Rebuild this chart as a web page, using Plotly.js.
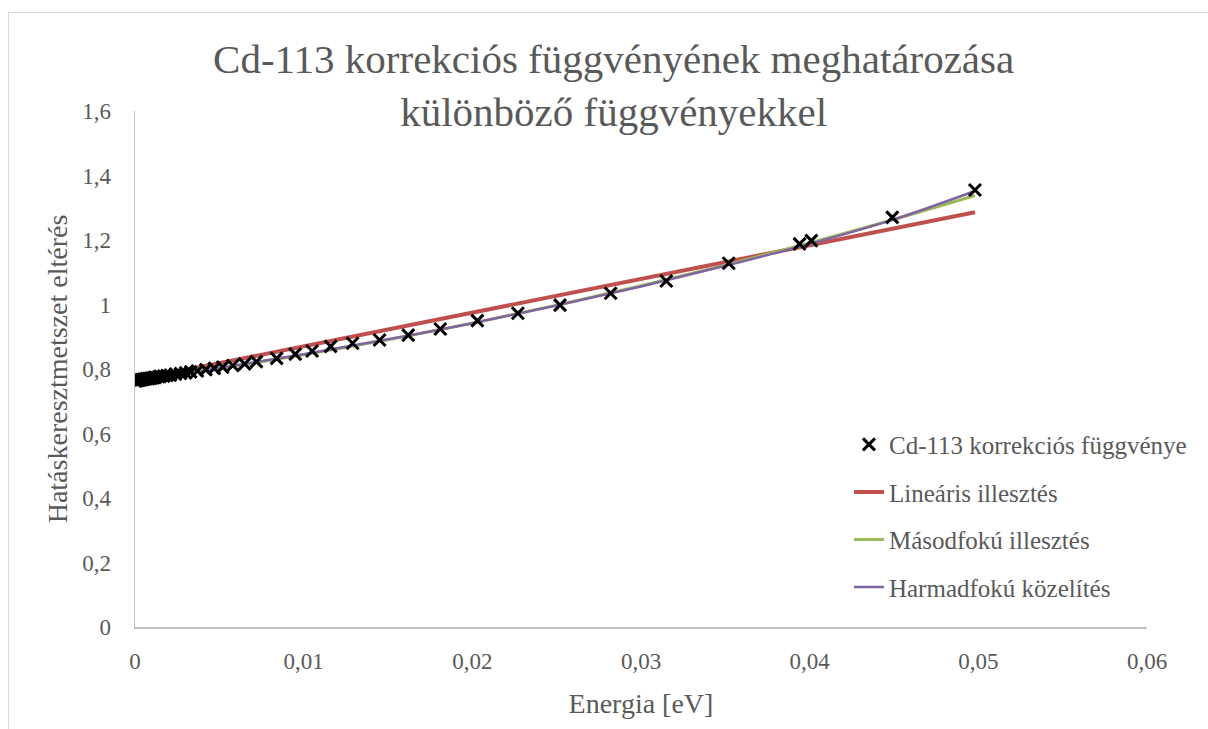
<!DOCTYPE html>
<html>
<head>
<meta charset="utf-8">
<script src="https://cdn.plot.ly/plotly-3.0.1.min.js"></script>
<style>
  html, body { margin: 0; padding: 0; background: #fff; overflow: hidden; }
  #chart { width: 1208px; height: 729px; }
  #frame { position: absolute; left: 8px; top: 12px; width: 1300px; height: 800px;
           border: 1.5px solid #D9D9D9; pointer-events: none; }
</style>
</head>
<body>
<div id="chart"></div>
<div id="frame"></div>
<script>
// Measured points (Energia [eV], Hatáskeresztmetszet eltérés)
const energy = [0.0498, 0.0449, 0.0401, 0.0394, 0.0352, 0.0315, 0.0282, 0.0252, 0.0227, 0.0203,
  0.0181, 0.0162, 0.0145, 0.0129, 0.0116, 0.0105, 0.0095, 0.0084, 0.0072, 0.0065,
  0.0058, 0.0052, 0.0047, 0.0042, 0.0037, 0.0033, 0.0030, 0.0027, 0.0024, 0.0021,
  0.0019, 0.0017, 0.0015, 0.0014, 0.0012, 0.0011, 0.0010, 0.0009, 0.0008, 0.0007,
  0.0006, 0.0005, 0.0004, 0.0003, 0.00025, 0.0002, 0.00015, 0.0001, 0.00005, 0.00001];
const correction = [1.355, 1.270, 1.198, 1.188, 1.128, 1.073, 1.035, 0.998, 0.973, 0.950,
  0.924, 0.905, 0.890, 0.880, 0.870, 0.856, 0.846, 0.833, 0.823, 0.816,
  0.811, 0.806, 0.802, 0.798, 0.794, 0.791, 0.788, 0.786, 0.784, 0.781,
  0.780, 0.778, 0.777, 0.776, 0.774, 0.773, 0.772, 0.771, 0.770, 0.770,
  0.769, 0.768, 0.767, 0.766, 0.766, 0.765, 0.765, 0.764, 0.764, 0.763];

// Trendlines
const fitX      = [0, 0.005, 0.01, 0.015, 0.02, 0.025, 0.03, 0.035, 0.04, 0.045, 0.0498];
const linearY   = [0.766, 0.818, 0.871, 0.923, 0.975, 1.027, 1.080, 1.132, 1.184, 1.236, 1.286];
const quadY     = [0.762, 0.801, 0.844, 0.891, 0.942, 0.998, 1.058, 1.122, 1.191, 1.264, 1.338];
const cubicY    = [0.765, 0.803, 0.846, 0.892, 0.942, 0.997, 1.056, 1.120, 1.188, 1.264, 1.352];

const names = ['Cd-113 korrekciós függvénye', 'Lineáris illesztés', 'Másodfokú illesztés', 'Harmadfokú közelítés'];
const titleText = 'Cd-113 korrekciós függvényének meghatározása<br>különböző függvényekkel';
const xTitle = 'Energia [eV]';
const yTitle = 'Hatáskeresztmetszet eltérés';

const FONT = '"Liberation Serif", "DejaVu Serif", serif';
const GREY = '#595959';

const traces = [
  { x: fitX, y: linearY, mode: 'lines', name: names[1], legendgroup: 'b', legendrank: 2,
    line: { color: '#C0504D', width: 4 } },
  { x: fitX, y: quadY, mode: 'lines', name: names[2], legendgroup: 'c', legendrank: 3,
    line: { color: '#9BBB59', width: 3, shape: 'spline' } },
  { x: fitX, y: cubicY, mode: 'lines', name: names[3], legendgroup: 'd', legendrank: 4,
    line: { color: '#8064A2', width: 2.5, shape: 'spline' } },
  { x: energy, y: correction, mode: 'markers', name: names[0], legendgroup: 'a', legendrank: 1,
    marker: { symbol: 'x-thin-open', size: 12, color: '#000', line: { color: '#000', width: 3 } } }
];

const layout = {
  width: 1208, height: 729,
  margin: { l: 135, r: 61, t: 111, b: 102 },
  paper_bgcolor: '#fff', plot_bgcolor: '#fff',
  separators: ', ',
  font: { family: FONT, color: GREY, size: 23 },
  title: { text: titleText, x: 0.508, xanchor: 'center', y: 0.90, yanchor: 'top',
           yref: 'container', font: { family: FONT, size: 41, color: GREY } },
  xaxis: { range: [0, 0.06], dtick: 0.01, tick0: 0, showgrid: false, zeroline: false,
           showline: true, linecolor: '#BFBFBF', linewidth: 1.5, ticks: '',
           ticklabelstandoff: 13, tickfont: { size: 23, color: GREY },
           title: { text: xTitle, standoff: 20, font: { size: 28, color: GREY } } },
  yaxis: { range: [0, 1.6], dtick: 0.2, tick0: 0, showgrid: false, zeroline: false,
           showline: true, linecolor: '#BFBFBF', linewidth: 1.5, ticks: '',
           ticklabelstandoff: 18, tickfont: { size: 23, color: GREY },
           title: { text: yTitle, standoff: 6, font: { size: 28, color: GREY } } },
  showlegend: true,
  legend: { x: 0.7055, xanchor: 'left', y: 0.398, yanchor: 'top', traceorder: 'grouped',
            tracegroupgap: 12, bgcolor: 'rgba(0,0,0,0)', font: { size: 25, color: GREY } }
};

Plotly.newPlot('chart', traces, layout, { staticPlot: true });
</script>
</body>
</html>
